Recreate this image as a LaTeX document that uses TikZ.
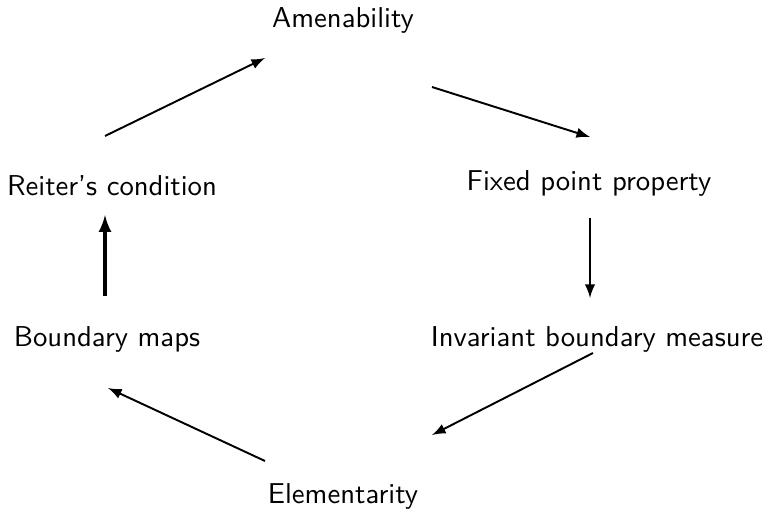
\documentclass[tikz,border=0pt]{standalone}
\usepackage{tikz}
\usetikzlibrary{arrows}

\tikzset{
  prop/.style={font=\sffamily\fontsize{10.4}{12}\selectfont, inner sep=0pt, anchor=base},
  imp/.style={->, >=latex, line width=0.7pt},
  impthick/.style={imp, line width=1.1pt}
}

\begin{document}
\begin{tikzpicture}[x=0.362pt, y=-0.362pt]
\useasboundingbox (0,0) rectangle (770,510);

\node[prop] (A) at (343,28) {Amenability};
\node[prop] (F) at (589,191) {Fixed point property};
\node[prop] (I) at (597,346) {Invariant boundary measure};
\node[prop] (E) at (343,503) {Elementarity};
\node[prop] (B) at (107,346) {Boundary maps};
\node[prop] (R) at (112,195) {Reiter's condition};

\draw[imp] ([shift={(-7,-59)}]R.base) -- ([shift={(-78,30)}]A.base);
\draw[imp] ([shift={(89,59)}]A.base) -- ([shift={(1,-54)}]F.base);
\draw[imp] ([shift={(1,27)}]F.base) -- ([shift={(-7,-48)}]I.base);
\draw[imp] ([shift={(-4,7)}]I.base) -- ([shift={(89,-68)}]E.base);
\draw[imp] ([shift={(-78,-42)}]E.base) -- ([shift={(1,42)}]B.base);
\draw[impthick] ([shift={(-2,-50)}]B.base) -- ([shift={(-7,20)}]R.base);
\end{tikzpicture}
\end{document}
